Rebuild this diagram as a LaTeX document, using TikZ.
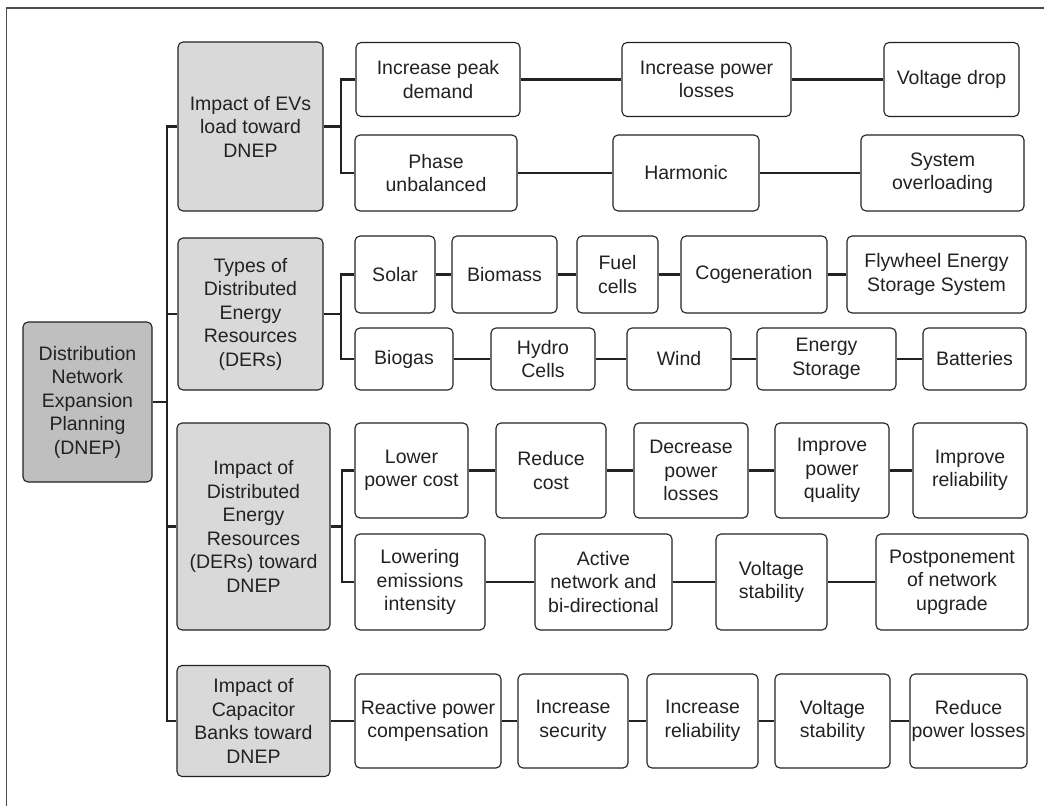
\documentclass[tikz,border=0pt]{standalone}
\usepackage{fontspec}
\setmainfont{Liberation Sans}

\definecolor{groupgray}{HTML}{D9D9D9}
\definecolor{rootgray}{HTML}{BFBFBF}
\definecolor{inkgray}{HTML}{222222}

\tikzset{
  box/.style={draw=inkgray, line width=1.1pt, rounded corners=5pt, align=center,
    inner sep=0pt, text=inkgray, font=\fontsize{19.5}{23.5}\selectfont},
  item/.style={box, fill=white},
  group/.style={box, fill=groupgray},
  rootbox/.style={box, fill=rootgray},
  link/.style={line width=2.6pt, draw=inkgray},
  frame/.style={line width=1.5pt, draw=black!70}
}

\begin{document}
\begin{tikzpicture}[x=1pt, y=-1pt]
\useasboundingbox (0,0) rectangle (1044,806);

% Outer frame
\draw[frame] (1044,8) -- (6.5,8) -- (6.5,806);

% Root and the four groups
\node[rootbox, minimum width=129pt, minimum height=160pt] (dnep) at (87.5,402) {Distribution\\Network\\Expansion\\Planning\\(DNEP)};
\node[group, minimum width=145pt, minimum height=169pt] (ev) at (250.5,126.5) {Impact of EVs\\load toward\\DNEP};
\node[group, minimum width=145pt, minimum height=152pt] (der) at (250.5,314) {Types of\\Distributed\\Energy\\Resources\\(DERs)};
\node[group, minimum width=153pt, minimum height=207pt] (derimp) at (253.5,526.5) {Impact of\\Distributed\\Energy\\Resources\\(DERs) toward\\DNEP};
\node[group, minimum width=153pt, minimum height=111pt] (cap) at (253.5,721) {Impact of\\Capacitor\\Banks toward\\DNEP};

% Trunk from the root to the groups
\coordinate (trunk) at (167,0);
\draw[link] (dnep.east) -- (dnep.east -| trunk);
\draw[link] (ev.west) -- (ev.west -| trunk) -- (cap.west -| trunk) -- (cap.west);
\draw[link] (der.west) -- (der.west -| trunk);
\draw[link] (derimp.west) -- (derimp.west -| trunk);

% Impact of EVs
\foreach \n/\x/\w/\txt in {evA/438/164/{Increase peak\\demand}, evB/706.5/169/{Increase power\\losses}, evC/951.5/135/{Voltage drop}}
  \node[item, minimum width=\w pt, minimum height=74pt] (\n) at (\x,79.5) {\txt};
\foreach \n/\x/\w/\txt in {evD/436/162/{Phase\\unbalanced}, evE/686/146/{Harmonic}, evF/942.5/163/{System\\overloading}}
  \node[item, minimum width=\w pt, minimum height=76pt] (\n) at (\x,173) {\txt};

% Types of DERs
\foreach \n/\x/\w/\txt in {tyA/395/80/{Solar}, tyB/504.5/105/{Biomass}, tyC/617.5/81/{Fuel\\cells}, tyD/754/146/{Cogeneration}, tyE/936.5/179/{Flywheel Energy\\Storage System}}
  \node[item, minimum width=\w pt, minimum height=77pt] (\n) at (\x,274.5) {\txt};
\foreach \n/\x/\w/\txt in {tyF/404/98/{Biogas}, tyG/543/104/{Hydro\\Cells}, tyH/679/104/{Wind}, tyI/826.5/139/{Energy\\Storage}, tyJ/974.5/103/{Batteries}}
  \node[item, minimum width=\w pt, minimum height=62pt] (\n) at (\x,359) {\txt};

% Impact of DERs
\foreach \n/\x/\w/\txt in {imA/411.5/113/{Lower\\power cost}, imB/551/110/{Reduce\\cost}, imC/691/114/{Decrease\\power\\losses}, imD/832/114/{Improve\\power\\quality}, imE/970/114/{Improve\\reliability}}
  \node[item, minimum width=\w pt, minimum height=95pt] (\n) at (\x,470.5) {\txt};
\foreach \n/\x/\w/\txt in {imF/420/130/{Lowering\\emissions\\intensity}, imG/603.5/137/{Active\\network and\\bi-directional}, imH/771.5/111/{Voltage\\stability}, imI/952/152/{Postponement\\of network\\upgrade}}
  \node[item, minimum width=\w pt, minimum height=96pt] (\n) at (\x,582) {\txt};

% Impact of capacitor banks
\foreach \n/\x/\w/\txt in {cbA/428/146/{Reactive power\\compensation}, cbB/573/110/{Increase\\security}, cbC/702.5/111/{Increase\\reliability}, cbD/832.5/115/{Voltage\\stability}, cbE/968.5/117/{Reduce\\power losses}}
  \node[item, minimum width=\w pt, minimum height=94pt] (\n) at (\x,721) {\txt};

% Chains along each row
\foreach \a/\b in {evA/evB, evB/evC, evD/evE, evE/evF, tyA/tyB, tyB/tyC, tyC/tyD, tyD/tyE, tyF/tyG, tyG/tyH, tyH/tyI, tyI/tyJ, imA/imB, imB/imC, imC/imD, imD/imE, imF/imG, imG/imH, imH/imI, cap/cbA, cbA/cbB, cbB/cbC, cbC/cbD, cbD/cbE}
  \draw[link] (\a) -- (\b);

% Branches from the groups to their two rows
\foreach \g/\top/\bot/\bx in {ev/evA/evD/341, der/tyA/tyF/341, derimp/imA/imF/342} {
  \coordinate (br) at (\bx,0);
  \draw[link] (\g.east) -- (\g.east -| br);
  \draw[link] (\top.west) -- (\top.west -| br) -- (\bot.west -| br) -- (\bot.west);
}

\end{tikzpicture}
\end{document}
